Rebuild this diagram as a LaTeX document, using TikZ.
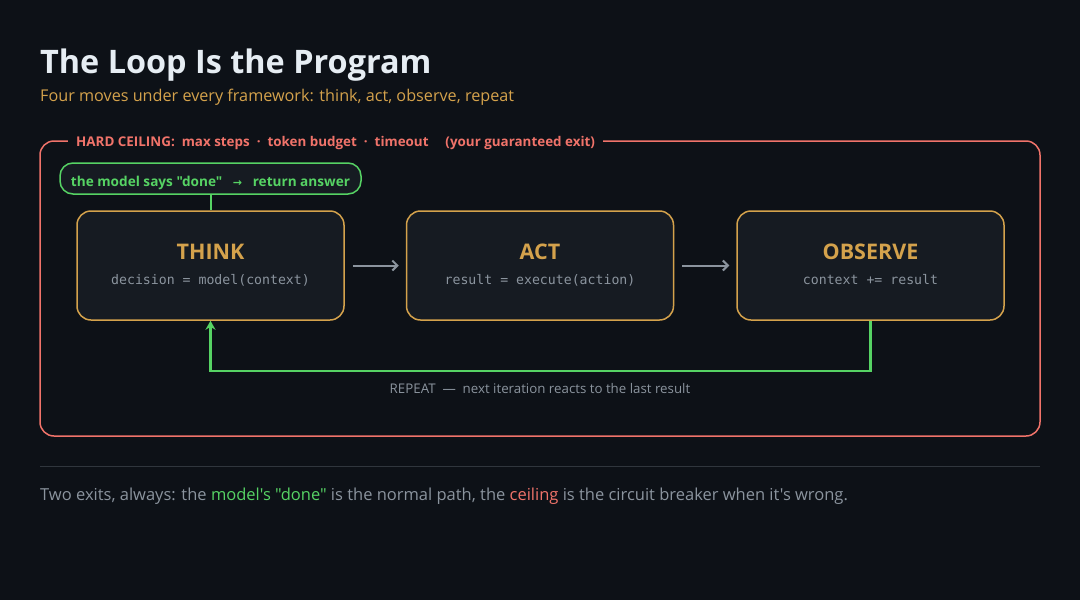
\documentclass[tikz,border=0pt]{standalone}
\usepackage{fontspec}
\setmainfont{Open Sans}[Ligatures=TeXOff]
\setmonofont{DejaVu Sans Mono}
\newfontfamily\symfont{DejaVu Sans}
\usetikzlibrary{arrows.meta,positioning}

\definecolor{bgdark}{HTML}{0D1117}
\definecolor{boxfill}{HTML}{161B22}
\definecolor{titlewhite}{HTML}{E6EDF3}
\definecolor{gold}{HTML}{D4A24C}
\definecolor{ceilred}{HTML}{F0736A}
\definecolor{donegreen}{HTML}{56D364}
\definecolor{mutedgray}{HTML}{8B949E}
\definecolor{rulegray}{HTML}{30363D}

\newcommand{\px}[1]{\fontsize{#1}{#1}\selectfont}

\tikzset{
  stage/.style={draw=gold, line width=1.5pt, fill=boxfill, rounded corners=14pt,
    minimum width=267pt, minimum height=109pt, inner sep=0pt},
  stagetitle/.style={text=gold, font=\px{21.5}\bfseries, anchor=base},
  code/.style={text=mutedgray, font=\px{13.2}\ttfamily, anchor=base},
  flow/.style={draw=mutedgray, line width=2pt, -{Straight Barb[length=5pt,width=10pt]},
    shorten <=8pt, shorten >=7pt},
  loopback/.style={draw=donegreen, line width=2.5pt, -{Stealth[length=9pt,width=10pt]}},
  pill/.style={draw=donegreen, line width=1.5pt, fill=boxfill, rounded corners=13pt,
    minimum width=301pt, minimum height=31pt, text height=15pt, text depth=0pt,
    text=donegreen, font=\px{13.6}\bfseries}
}

\begin{document}
\begin{tikzpicture}[x=1pt, y=-1pt]
  % canvas
  \fill[bgdark] (0,0) rectangle (1080,600);
  \useasboundingbox (0,0) rectangle (1080,600);

  % heading
  \node[anchor=base west, inner sep=0pt, text=titlewhite, font=\px{32.4}\bfseries]
    (title) at (40,73) {The Loop Is the Program};
  \node[anchor=base west, inner sep=0pt, text=gold, font=\px{16.2}]
    (subtitle) at (40,101) {Four moves under every framework: think, act, observe, repeat};

  % hard ceiling frame
  \draw[ceilred, line width=1.5pt, rounded corners=14pt] (40,141) rectangle (1040,436);
  \node[anchor=base west, fill=bgdark, inner xsep=8pt, inner ysep=3pt, text=ceilred,
    font=\px{13.4}\bfseries] (ceiling) at (68,146)
    {HARD CEILING:\ \ max steps\ \ ·\ \ token budget\ \ ·\ \ timeout\quad\ (your guaranteed exit)};

  % normal exit
  \node[pill] (done) at (210.5,178.5)
    {the model says "done"\ \ \ {\symfont\px{11}→}\ \ \ return answer};

  % the three moves
  \node[stage] (think) at (210.5,265.5) {};
  \node[stage] (act) at (540,265.5) {};
  \node[stage] (observe) at (870.5,265.5) {};
  \node[stagetitle] (thinkt) at (think.center) [yshift=6.5pt] {THINK};
  \node[code] (thinkc) at (think.center) [yshift=-18.5pt] {decision = model(context)};
  \node[stagetitle] (actt) at (act.center) [yshift=6.5pt] {ACT};
  \node[code] (actc) at (act.center) [yshift=-18.5pt] {result = execute(action)};
  \node[stagetitle] (observet) at (observe.center) [yshift=6.5pt] {OBSERVE};
  \node[code] (observec) at (observe.center) [yshift=-18.5pt] {context += result};

  % connectors
  \draw[donegreen, line width=2pt] (done) -- (think);
  \draw[flow] (think) -- (act);
  \draw[flow] (act) -- (observe);
  \draw[loopback] (observe.south) -- ++(0,50) -| (think.south);
  \node[anchor=base, text=mutedgray, font=\px{13.3}] (repeat) at (540,393)
    {REPEAT\ \ —\ \ next iteration reacts to the last result};

  % footer
  \draw[rulegray, line width=1pt] (40,466) -- (1040,466);
  \node[anchor=base west, inner sep=0pt, text=mutedgray, font=\px{16.5}] (footer) at (40,500)
    {Two exits, always: the \textcolor{donegreen}{model's "done"} is the normal path,
     the \textcolor{ceilred}{ceiling} is the circuit breaker when it's wrong.};
\end{tikzpicture}
\end{document}
